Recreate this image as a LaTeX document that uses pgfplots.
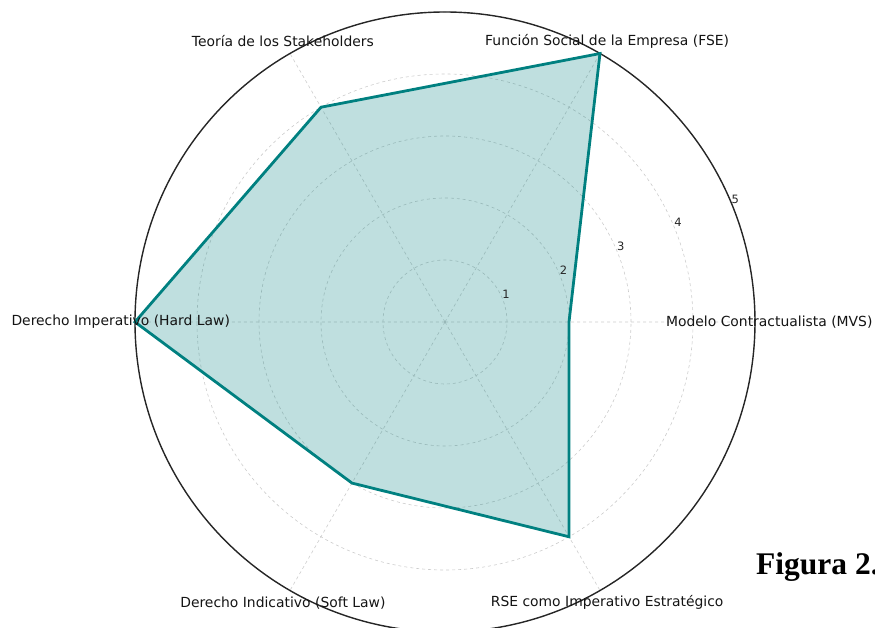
\documentclass[border=0pt]{standalone}
\usepackage{fontspec}
\setmainfont{DejaVu Sans}
\newfontfamily\figfont{Liberation Serif}
\usepackage{pgfplots}
\pgfplotsset{compat=1.18}
\usepgfplotslibrary{polar}
\definecolor{mplteal}{RGB}{0,128,128}
\begin{document}
\begin{tikzpicture}
\useasboundingbox (0,0) rectangle (875pt,628pt);
\clip (0,0) rectangle (875pt,628pt);
\begin{polaraxis}[
  at={(445pt,306pt)}, anchor=center,
  scale only axis, width=620pt, height=620pt,
  xmin=0, xmax=360, ymin=0, ymax=5,
  xtick={0,60,...,300}, ytick={1,2,3,4,5},
  xticklabels={}, yticklabels={},
  grid=major,
  major grid style={gray!40, dash pattern=on 3pt off 3pt, line width=0.6pt},
  x axis line style={black!85, line width=1.4pt},
  y axis line style={draw=none},
  major tick length=0pt,
  clip=false,
]
\addplot[draw=mplteal, line width=2.8pt, fill=mplteal, fill opacity=0.25, draw opacity=1, line join=miter] coordinates {(0,2) (60,5) (120,4) (180,5) (240,3) (300,4)} -- cycle;
\foreach \a/\t in {0/Modelo Contractualista (MVS), 60/Función Social de la Empresa (FSE), 120/Teoría de los Stakeholders, 180/Derecho Imperativo (Hard Law), 240/Derecho Indicativo (Soft Law), 300/RSE como Imperativo Estratégico}{
  \edef\tmp{\noexpand\node[anchor=center, inner sep=0pt, font=\noexpand\fontsize{13.9}{16}\noexpand\selectfont, text=black!92] at (axis cs:\a,5.23) {\t};}\tmp
}
\foreach \r in {1,2,3,4,5}{
  \edef\tmp{\noexpand\node[anchor=south west, inner sep=0pt, font=\noexpand\fontsize{11.5}{11.5}\noexpand\selectfont, text=black!85] at (axis cs:22.5,\r) {\r};}\tmp
}
\end{polaraxis}
\node[anchor=base west, inner sep=0pt, font=\figfont\bfseries\fontsize{31.5}{32}\selectfont] at (756pt,53pt) {Figura 2.};
\end{tikzpicture}
\end{document}
